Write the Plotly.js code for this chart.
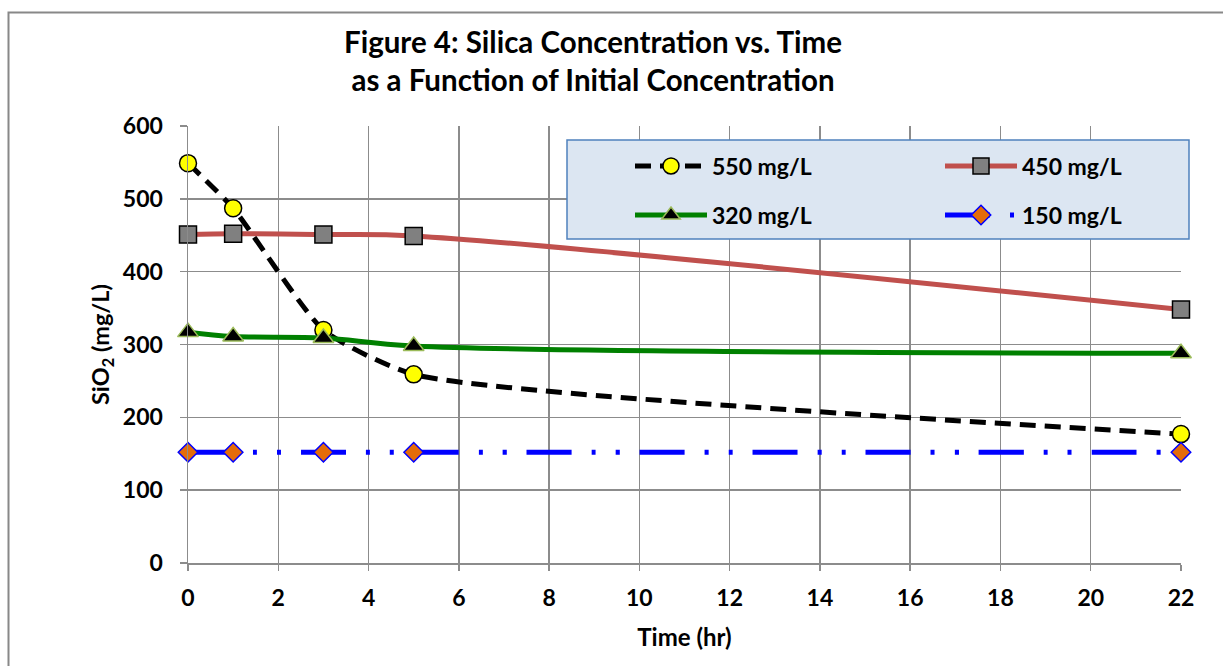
<!DOCTYPE html>
<html>
<head>
<meta charset="utf-8">
<script src="https://cdn.plot.ly/plotly-3.0.1.min.js"></script>
<style>html,body{margin:0;padding:0;background:#fff;}#chart{width:1223px;height:666px;}</style>
</head>
<body>
<div id="chart"></div>
<script>
const timeHr = [0, 1, 3, 5, 22];
const s550 = [549, 487, 320, 259, 177];
const s450 = [451, 452, 451, 449, 348];
const s320 = [317, 311, 309, 298, 288];
const s150 = [152, 152, 152, 152, 152];
const seriesNames = ['550 mg/L', '450 mg/L', '320 mg/L', '150 mg/L'];
const xTicks = [0, 2, 4, 6, 8, 10, 12, 14, 16, 18, 20, 22];
const yTicks = [0, 100, 200, 300, 400, 500, 600];

const FONT = 'Lato, "Open Sans", sans-serif';

const traces = [
  {x: timeHr, y: s550, name: seriesNames[0], legend: 'legend', mode: 'lines+markers', cliponaxis: false,
   line: {color: '#000000', width: 5, dash: '16px,9px', shape: 'spline', smoothing: 0.55},
   marker: {symbol: 'circle', size: 17, color: '#ffff00', line: {color: '#000000', width: 1.5}}},
  {x: timeHr, y: s450, name: seriesNames[1], legend: 'legend2', mode: 'lines+markers', cliponaxis: false,
   line: {color: '#c0504d', width: 5, shape: 'spline', smoothing: 1},
   marker: {symbol: 'square', size: 17, color: '#808080', line: {color: '#000000', width: 1.5}}},
  {x: timeHr, y: s320, name: seriesNames[2], legend: 'legend3', mode: 'lines+markers', cliponaxis: false,
   line: {color: '#008000', width: 5, shape: 'spline', smoothing: 1},
   marker: {symbol: 'triangle-up', size: 18, color: '#000000', line: {color: '#9bbb59', width: 1.5}}},
  {x: timeHr, y: s150, name: seriesNames[3], legend: 'legend4', mode: 'lines+markers', cliponaxis: false,
   line: {color: '#0000ff', width: 5, dash: '45px,20px,4px,20px,4px,20px', shape: 'spline', smoothing: 1},
   marker: {symbol: 'diamond', size: 15, color: '#e46c0a', line: {color: '#0000ff', width: 1.5}}}
];

const legFont = {family: FONT, size: 23, color: '#000000', weight: 'bold'};
function leg(x, y) {
  return {x: x, y: y, xanchor: 'left', yanchor: 'middle', bgcolor: 'rgba(0,0,0,0)',
          borderwidth: 0, font: legFont, orientation: 'v', itemwidth: 72};
}

const layout = {
  width: 1223, height: 666,
  margin: {l: 188, r: 42, t: 126, b: 103},
  paper_bgcolor: '#ffffff', plot_bgcolor: '#ffffff',
  font: {family: FONT, color: '#000000'},
  title: {text: '<b>Figure 4: Silica Concentration vs. Time<br>as a Function of Initial Concentration</b>',
          font: {family: FONT, size: 29.5, color: '#000000'},
          x: 593 / 1223, xanchor: 'center', y: 1 - 53 / 666, yanchor: 'middle'},
  xaxis: {range: [0, 22], tickmode: 'array', tickvals: xTicks, ticktext: xTicks.map(String),
          showgrid: true, gridcolor: '#8c8c8c', gridwidth: 1.5, zeroline: false,
          showline: true, linecolor: '#8c8c8c', linewidth: 1.5,
          ticks: 'outside', ticklen: 6, tickcolor: '#8c8c8c', tickwidth: 1.5, ticklabelstandoff: 8,
          tickfont: {family: FONT, size: 23, color: '#000000', weight: 'bold'},
          title: {text: '<b>Time (hr)</b>', font: {family: FONT, size: 24, color: '#000000'}, standoff: 19}},
  yaxis: {range: [0, 600], tickmode: 'array', tickvals: yTicks, ticktext: yTicks.map(String),
          showgrid: true, gridcolor: '#8c8c8c', gridwidth: 1.5, zeroline: false,
          showline: true, linecolor: '#8c8c8c', linewidth: 1.5,
          ticks: 'outside', ticklen: 7, tickcolor: '#8c8c8c', tickwidth: 1.5, ticklabelstandoff: 12,
          tickfont: {family: FONT, size: 23, color: '#000000', weight: 'bold'},
          title: {text: '<b>SiO<sub>2</sub> (mg/L)</b>', font: {family: FONT, size: 23.5, color: '#000000'}, standoff: 6}},
  showlegend: true,
  legend: leg((630 - 188) / 993, (563 - 166) / 437),
  legend2: leg((940 - 188) / 993, (563 - 166) / 437),
  legend3: leg((630 - 188) / 993, (563 - 215) / 437),
  legend4: leg((940 - 188) / 993, (563 - 215) / 437),
  shapes: [
    {type: 'rect', xref: 'paper', yref: 'paper', layer: 'above',
     x0: (567 - 188) / 993, x1: (1189 - 188) / 993, y0: (563 - 239) / 437, y1: (563 - 140) / 437,
     fillcolor: '#dce6f2', line: {color: '#4f81bd', width: 1.5}},
    {type: 'rect', xref: 'paper', yref: 'paper', layer: 'below',
     x0: (8.5 - 188) / 993, x1: 1.2, y0: -0.5, y1: (563 - 12.5) / 437,
     fillcolor: 'rgba(0,0,0,0)', line: {color: '#888888', width: 2}}
  ]
};

Plotly.newPlot('chart', traces, layout, {displayModeBar: false, staticPlot: true});
</script>
</body>
</html>
